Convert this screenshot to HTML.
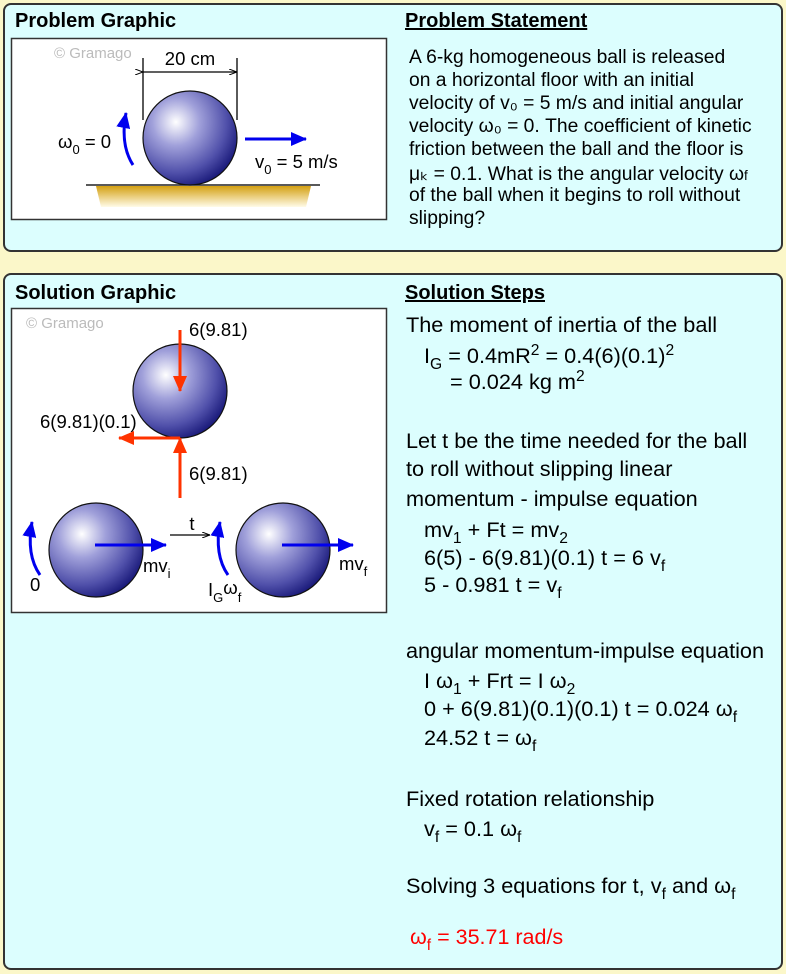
<!DOCTYPE html>
<html><head><meta charset="utf-8"><style>
body{margin:0;width:786px;height:974px;background:#fbf7c9;font-family:"Liberation Sans",Arial,sans-serif;position:relative;overflow:hidden}
.panel{position:absolute;background:#dcfefe;border:2px solid #333;border-radius:8px;box-sizing:border-box}
.t{position:absolute;white-space:nowrap;color:#000}
.h{font-weight:bold;font-size:20px}
.u{text-decoration:underline}
.s{font-size:21.7px}
.p{font-size:19.3px}
sub,sup{font-size:72%}
sub{vertical-align:-6px}
sup{vertical-align:8px}
</style></head><body>
<div class="panel" style="left:3px;top:3px;width:780px;height:249px"></div>
<div class="panel" style="left:3px;top:273px;width:780px;height:697px"></div>

<div class="t h" style="left:15px;top:10px">Problem Graphic</div>
<div class="t h u" style="left:405px;top:10px">Problem Statement</div>
<div class="t p" style="left:409px;top:47px">A 6-kg homogeneous ball is released</div>
<div class="t p" style="left:409px;top:70px">on a horizontal floor with an initial</div>
<div class="t p" style="left:409px;top:93px">velocity of v₀ = 5 m/s and initial angular</div>
<div class="t p" style="left:409px;top:116px">velocity ω₀ = 0. The coefficient of kinetic</div>
<div class="t p" style="left:409px;top:139px">friction between the ball and the floor is</div>
<div class="t p" style="left:409px;top:162px">μₖ = 0.1. What is the angular velocity ω<span style="font-size:70%">f</span></div>
<div class="t p" style="left:409px;top:185px">of the ball when it begins to roll without</div>
<div class="t p" style="left:409px;top:208px">slipping?</div>

<div class="t h" style="left:15px;top:282px">Solution Graphic</div>
<div class="t h u" style="left:405px;top:282px">Solution Steps</div>

<svg style="position:absolute;left:0;top:0" width="786" height="974" font-family="Liberation Sans, Arial, sans-serif">
<defs>
<radialGradient id="b" cx="0.35" cy="0.33" r="0.72">
<stop offset="0" stop-color="#ffffff"/><stop offset="0.35" stop-color="#a0a0da"/><stop offset="0.75" stop-color="#5050aa"/><stop offset="1" stop-color="#1a1a7a"/></radialGradient>
<linearGradient id="g" x1="0" y1="0" x2="0" y2="1"><stop offset="0" stop-color="#d4a012"/><stop offset="1" stop-color="#fffbe8"/></linearGradient>
<marker id="ab2" markerWidth="16" markerHeight="14" refX="15" refY="7" orient="auto" markerUnits="userSpaceOnUse"><path d="M0,0 L16,7 L0,14z" fill="#0000ee"/></marker>
<marker id="ar" markerWidth="16" markerHeight="14" refX="15" refY="7" orient="auto" markerUnits="userSpaceOnUse"><path d="M0,0 L16,7 L0,14z" fill="#ff3300"/></marker>
<marker id="ak" markerWidth="8" markerHeight="6" refX="8" refY="3" orient="auto" markerUnits="userSpaceOnUse"><path d="M0,0 L8,3 L0,6" fill="none" stroke="#000"/></marker>
</defs>
<rect x="11.5" y="38.5" width="375" height="181" fill="#fff" stroke="#333" stroke-width="1.5"/>
<text x="54" y="58" font-size="15" fill="#bbb">© Gramago</text>
<polygon points="96,186 311,186 306,207 101,207" fill="url(#g)"/>
<line x1="86" y1="185" x2="320" y2="185" stroke="#222" stroke-width="1.5"/>
<circle cx="190" cy="138" r="47" fill="url(#b)" stroke="#111" stroke-width="1.2"/>
<line x1="143" y1="58" x2="143" y2="120" stroke="#000" stroke-width="1.3"/>
<line x1="237" y1="58" x2="237" y2="120" stroke="#000" stroke-width="1.3"/>
<line x1="143" y1="72" x2="237" y2="72" stroke="#000" stroke-width="1.3" marker-end="url(#ak)" marker-start="url(#ak)"/>
<text x="190" y="65" font-size="18.5" text-anchor="middle">20 cm</text>
<path d="M133,165 Q120,145 126,113" fill="none" stroke="#0000ee" stroke-width="3" marker-end="url(#ab2)"/>
<text x="58" y="148" font-size="18.5">ω<tspan font-size="13" dy="6">0</tspan><tspan dy="-6"> = 0</tspan></text>
<line x1="245" y1="139" x2="306" y2="139" stroke="#0000ee" stroke-width="3" marker-end="url(#ab2)"/>
<text x="255" y="168" font-size="18.5">v<tspan font-size="13" dy="6">0</tspan><tspan dy="-6"> = 5 m/s</tspan></text>

<rect x="11.5" y="308.5" width="375" height="304" fill="#fff" stroke="#333" stroke-width="1.5"/>
<text x="26" y="328" font-size="15" fill="#bbb">© Gramago</text>
<circle cx="180" cy="391" r="47" fill="url(#b)" stroke="#111" stroke-width="1.2"/>
<line x1="180" y1="330" x2="180" y2="391" stroke="#ff3300" stroke-width="3" marker-end="url(#ar)"/>
<line x1="180" y1="438" x2="119" y2="438" stroke="#ff3300" stroke-width="3" marker-end="url(#ar)"/>
<line x1="180" y1="498" x2="180" y2="438" stroke="#ff3300" stroke-width="3" marker-end="url(#ar)"/>
<text x="189" y="336" font-size="18.5">6(9.81)</text>
<text x="40" y="428" font-size="18.5">6(9.81)(0.1)</text>
<text x="189" y="480" font-size="18.5">6(9.81)</text>
<circle cx="96" cy="550" r="47" fill="url(#b)" stroke="#111" stroke-width="1.2"/>
<circle cx="283" cy="550" r="47" fill="url(#b)" stroke="#111" stroke-width="1.2"/>
<line x1="95" y1="545" x2="166" y2="545" stroke="#0000ee" stroke-width="3" marker-end="url(#ab2)"/>
<line x1="282" y1="545" x2="353" y2="545" stroke="#0000ee" stroke-width="3" marker-end="url(#ab2)"/>
<line x1="170" y1="535" x2="210" y2="535" stroke="#000" stroke-width="1.3" marker-end="url(#ak)"/>
<text x="192" y="530" font-size="18.5" text-anchor="middle">t</text>
<path d="M40,575 Q26,555 32,522" fill="none" stroke="#0000ee" stroke-width="3" marker-end="url(#ab2)"/>
<path d="M228,575 Q214,555 220,522" fill="none" stroke="#0000ee" stroke-width="3" marker-end="url(#ab2)"/>
<text x="30" y="591" font-size="18.5">0</text>
<text x="143" y="572" font-size="18.5">mv<tspan font-size="13" dy="6">i</tspan></text>
<text x="208" y="596" font-size="18.5">I<tspan font-size="13" dy="6">G</tspan><tspan dy="-8">ω</tspan><tspan font-size="13" dy="8">f</tspan></text>
<text x="339" y="570" font-size="18.5">mv<tspan font-size="13" dy="6">f</tspan></text>
</svg>

<div class="t s" style="left:406px;top:312px">The moment of inertia of the ball</div>
<div class="t s" style="left:424px;top:342px">I<sub>G</sub> = 0.4mR<sup>2</sup> = 0.4(6)(0.1)<sup>2</sup></div>
<div class="t s" style="left:450px;top:368px">= 0.024 kg m<sup>2</sup></div>
<div class="t s" style="left:406px;top:428px">Let t be the time needed for the ball</div>
<div class="t s" style="left:406px;top:456px">to roll without slipping linear</div>
<div class="t s" style="left:406px;top:486px">momentum - impulse equation</div>
<div class="t s" style="left:424px;top:517px">mv<sub>1</sub> + Ft = mv<sub>2</sub></div>
<div class="t s" style="left:424px;top:545px">6(5) - 6(9.81)(0.1) t = 6 v<sub>f</sub></div>
<div class="t s" style="left:424px;top:572px">5 - 0.981 t = v<sub>f</sub></div>
<div class="t s" style="left:406px;top:638px">angular momentum-impulse equation</div>
<div class="t s" style="left:424px;top:668px">I ω<sub>1</sub> + Frt = I ω<sub>2</sub></div>
<div class="t s" style="left:424px;top:696px">0 + 6(9.81)(0.1)(0.1) t = 0.024 ω<sub>f</sub></div>
<div class="t s" style="left:424px;top:725px">24.52 t = ω<sub>f</sub></div>
<div class="t s" style="left:406px;top:786px">Fixed rotation relationship</div>
<div class="t s" style="left:424px;top:816px">v<sub>f</sub> = 0.1 ω<sub>f</sub></div>
<div class="t s" style="left:406px;top:873px">Solving 3 equations for t, v<sub>f</sub> and ω<sub>f</sub></div>
<div class="t s" style="left:410px;top:925px;color:#ff0000;font-size:21.5px">ω<sub>f</sub> = 35.71 rad/s</div>
</body></html>
